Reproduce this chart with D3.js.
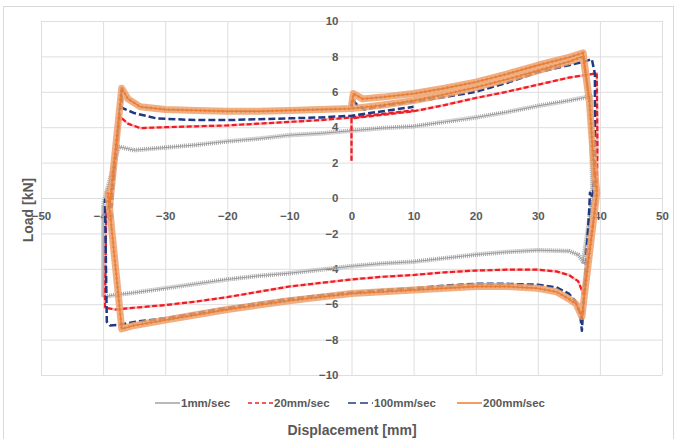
<!DOCTYPE html>
<html>
<head>
<meta charset="utf-8">
<script src="https://cdn.jsdelivr.net/npm/d3@7"></script>
<style>
  body { margin: 0; background: #fff; }
  text { font-family: "Liberation Sans", Arial, sans-serif; font-weight: bold; fill: #595959; }
</style>
</head>
<body>
<div id="chart"></div>
<script>
// tick values
let xTicks = [-50, -40, -30, -20, -10, 0, 10, 20, 30, 40, 50];
let yTicks = [-10, -8, -6, -4, -2, 0, 2, 4, 6, 8, 10];

let seriesNames = ['1mm/sec', '20mm/sec', '100mm/sec', '200mm/sec'];

// [displacement mm, load kN]
let loop1 = [
  [-37.5, 2.9], [-35, 2.7], [-30, 2.85], [-25, 3.0], [-20, 3.2], [-15, 3.35], [-10, 3.55],
  [-5, 3.65], [0, 3.8], [5, 3.95], [10, 4.05], [15, 4.3], [20, 4.55], [25, 4.85], [30, 5.2],
  [35, 5.5], [38.5, 5.75], [38.8, 0], [37.3, -3.6], [36.5, -3.2], [35, -3.0], [30, -2.95],
  [25, -3.05], [20, -3.2], [15, -3.4], [10, -3.6], [5, -3.7], [0, -3.85], [-5, -4.05],
  [-10, -4.25], [-15, -4.4], [-20, -4.6], [-25, -4.85], [-30, -5.1], [-35, -5.35],
  [-38.5, -5.5], [-40, -5.6], [-40, -0.4], [-37.5, 2.9]
];

let loop20 = [
  [0, 2.1], [0, 4.5], [5, 4.7], [10, 4.9], [15, 5.25], [20, 5.65], [25, 6.0], [30, 6.4],
  [35, 6.8], [39.5, 7.05], [39.6, 3], [39.5, 0], [37.3, -5.4], [36.5, -4.7], [35, -4.35],
  [33, -4.15], [30, -4.05], [25, -4.05], [20, -4.1], [15, -4.2], [10, -4.35], [5, -4.45],
  [0, -4.6], [-5, -4.8], [-10, -5.0], [-15, -5.3], [-20, -5.6], [-25, -5.85], [-30, -6.05],
  [-35, -6.2], [-38, -6.3], [-39.7, -6.2], [-39.5, -1], [-38.5, 0.5], [-37.3, 4.6],
  [-36, 4.2], [-34, 3.95], [-30, 4.0], [-25, 4.05], [-20, 4.1], [-15, 4.2], [-10, 4.3],
  [-5, 4.4], [0, 4.55], [5, 4.75], [10, 4.95]
];

let loop100 = [
  [0, 5.1], [0.1, 5.6], [0.8, 5.3], [2, 5.0], [5, 5.2], [10, 5.45], [15, 5.7], [20, 6.0],
  [25, 6.5], [30, 7.1], [35, 7.5], [37.5, 7.7], [38.7, 7.85], [39.2, 7.0], [39.2, 2],
  [38.9, 0], [38.4, 0.3], [38.3, -0.5], [37.1, -7.5], [36.8, -6.5], [36, -5.8], [35, -5.4],
  [33, -5.05], [30, -4.9], [25, -4.85], [20, -4.85], [15, -4.95], [10, -5.1], [5, -5.2],
  [0, -5.35], [-5, -5.5], [-10, -5.7], [-15, -5.95], [-20, -6.2], [-25, -6.5], [-30, -6.8],
  [-35, -7.0], [-37, -7.15], [-38.9, -7.2], [-39.4, -7.0], [-39.7, -0.1], [-38.6, -0.5],
  [-38.5, 0.2], [-37, 6.2], [-37, 5.1], [-35, 4.8], [-31.4, 4.5], [-25, 4.4], [-20, 4.4],
  [-15, 4.45], [-10, 4.5], [-5, 4.55], [0, 4.65], [5, 4.9], [10, 5.15]
];

let loop200 = [
  [0, 5.2], [0.3, 5.9], [1.8, 5.6], [5, 5.7], [10, 5.9], [15, 6.2], [20, 6.55], [25, 7.0],
  [30, 7.5], [35, 7.95], [37.3, 8.2], [38.3, 5.5], [39.0, 2], [39.5, 0.3], [37.1, -6.7],
  [36.2, -6.0], [35, -5.7], [33, -5.3], [30, -5.1], [25, -5.0], [20, -5.0], [15, -5.1],
  [10, -5.2], [5, -5.3], [0, -5.4], [-5, -5.6], [-10, -5.8], [-15, -6.05], [-20, -6.3],
  [-25, -6.6], [-30, -6.9], [-35, -7.2], [-37, -7.4], [-39.2, 0.3], [-39, -0.6], [-37, 6.2],
  [-36, 5.6], [-34, 5.15], [-30, 5.0], [-25, 4.95], [-20, 4.9], [-15, 4.9], [-10, 4.95],
  [-5, 5.0], [0, 5.05], [5, 5.25], [10, 5.5], [15, 5.85], [20, 6.25], [25, 6.7], [30, 7.2],
  [35, 7.7], [37.3, 8.0], [38.3, 5.5]
];

let width = 681, height = 439;
let margin = {top: 21, right: 19, bottom: 64, left: 41};

let x = d3.scaleLinear().domain([-50, 50]).range([margin.left, width - margin.right]);
let y = d3.scaleLinear().domain([-10, 10]).range([height - margin.bottom, margin.top]);

let svg = d3.select('#chart')
  .append('svg')
  .attr('width', width)
  .attr('height', height);

svg.append('rect')
  .attr('x', 3.5).attr('y', 6.5)
  .attr('width', 670).attr('height', 440)
  .attr('fill', '#fff')
  .attr('stroke', '#d9d9d9');

// gridlines
svg.append('g')
  .attr('class', 'grid')
  .attr('transform', 'translate(0,' + y(-10) + ')')
  .call(d3.axisBottom(x).tickValues(xTicks).tickSize(-(y(-10) - y(10))).tickFormat(''));
svg.append('g')
  .attr('class', 'grid')
  .attr('transform', 'translate(' + x(-50) + ',0)')
  .call(d3.axisLeft(y).tickValues(yTicks).tickSize(-(x(50) - x(-50))).tickFormat(''));
svg.selectAll('.grid .domain').remove();
svg.selectAll('.grid line').attr('stroke', '#dedede').attr('stroke-width', 1);

// tick labels, crossing at the origin like the excel chart
let xLab = svg.append('g')
  .attr('transform', 'translate(0,' + y(0) + ')')
  .call(d3.axisBottom(x).tickValues(xTicks).tickSize(0).tickPadding(14));
let yLab = svg.append('g')
  .attr('transform', 'translate(' + x(0) + ',0)')
  .call(d3.axisLeft(y).tickValues(yTicks).tickSize(0).tickPadding(13));
[xLab, yLab].forEach(g => {
  g.select('.domain').remove();
  g.selectAll('text')
    .attr('fill', '#404040')
    .style('font-size', '11.5px')
    .style('font-family', '"Liberation Sans", Arial, sans-serif')
    .style('font-weight', 'bold');
});

let line = d3.line()
  .x(d => x(d[0]))
  .y(d => y(d[1]));

let plot = svg.append('g');

// 1mm/sec - grey, dense wiggle band
plot.append('path').attr('d', line(loop1))
  .attr('fill', 'none').attr('stroke', '#a8a8a8').attr('stroke-width', 4.5)
  .attr('stroke-dasharray', '1,1').attr('stroke-linejoin', 'round');
plot.append('path').attr('d', line(loop1))
  .attr('fill', 'none').attr('stroke', '#9a9a9a').attr('stroke-width', 1);

// 20mm/sec - red dashed
plot.append('path').attr('d', line(loop20))
  .attr('fill', 'none').attr('stroke', '#ff8080').attr('stroke-width', 2.5)
  .attr('stroke-opacity', 0.6).attr('stroke-linejoin', 'round');
plot.append('path').attr('d', line(loop20))
  .attr('fill', 'none').attr('stroke', '#ee1c25').attr('stroke-width', 2.2)
  .attr('stroke-dasharray', '5,2.5');

// 100mm/sec - dark blue long dash
plot.append('path').attr('d', line(loop100))
  .attr('fill', 'none').attr('stroke', '#1f3a85').attr('stroke-width', 2.5)
  .attr('stroke-dasharray', '7,3').attr('stroke-linejoin', 'round');

// 200mm/sec - orange band on top
plot.append('path').attr('d', line(loop200))
  .attr('fill', 'none').attr('stroke', '#eea06a').attr('stroke-width', 7)
  .attr('stroke-opacity', 0.85).attr('stroke-linejoin', 'round');
plot.append('path').attr('d', line(loop200))
  .attr('fill', 'none').attr('stroke', '#8c5a36').attr('stroke-width', 2.5)
  .attr('stroke-dasharray', '1.5,3').attr('stroke-opacity', 0.45);
plot.append('path').attr('d', line(loop200))
  .attr('fill', 'none').attr('stroke', '#ed7d31').attr('stroke-width', 1.3)
  .attr('stroke-linejoin', 'round');

// axis titles
svg.append('text')
  .attr('text-anchor', 'middle')
  .attr('transform', 'translate(33,210) rotate(-90)')
  .style('font-size', '14px')
  .text('Load [kN]');

svg.append('text')
  .attr('text-anchor', 'middle')
  .attr('x', 352)
  .attr('y', 435)
  .style('font-size', '14px')
  .text('Displacement [mm]');

// legend
let legendItems = [
  {name: seriesNames[0], color: '#a0a0a0', dash: null, x: 155},
  {name: seriesNames[1], color: '#ee1c25', dash: '4,3', x: 248},
  {name: seriesNames[2], color: '#1f3a85', dash: '8,4', x: 348},
  {name: seriesNames[3], color: '#ed7d31', dash: null, x: 457}
];

let legend = svg.append('g')
  .selectAll('g')
  .data(legendItems)
  .enter()
  .append('g')
  .attr('transform', d => 'translate(' + d.x + ',403)');

legend.append('line')
  .attr('x1', 0).attr('x2', 25)
  .attr('stroke', d => d.color)
  .attr('stroke-width', 1.5)
  .attr('stroke-dasharray', d => d.dash);

legend.append('text')
  .attr('x', 26)
  .attr('dy', '0.35em')
  .style('font-size', '11.5px')
  .text(d => d.name);
</script>
</body>
</html>
